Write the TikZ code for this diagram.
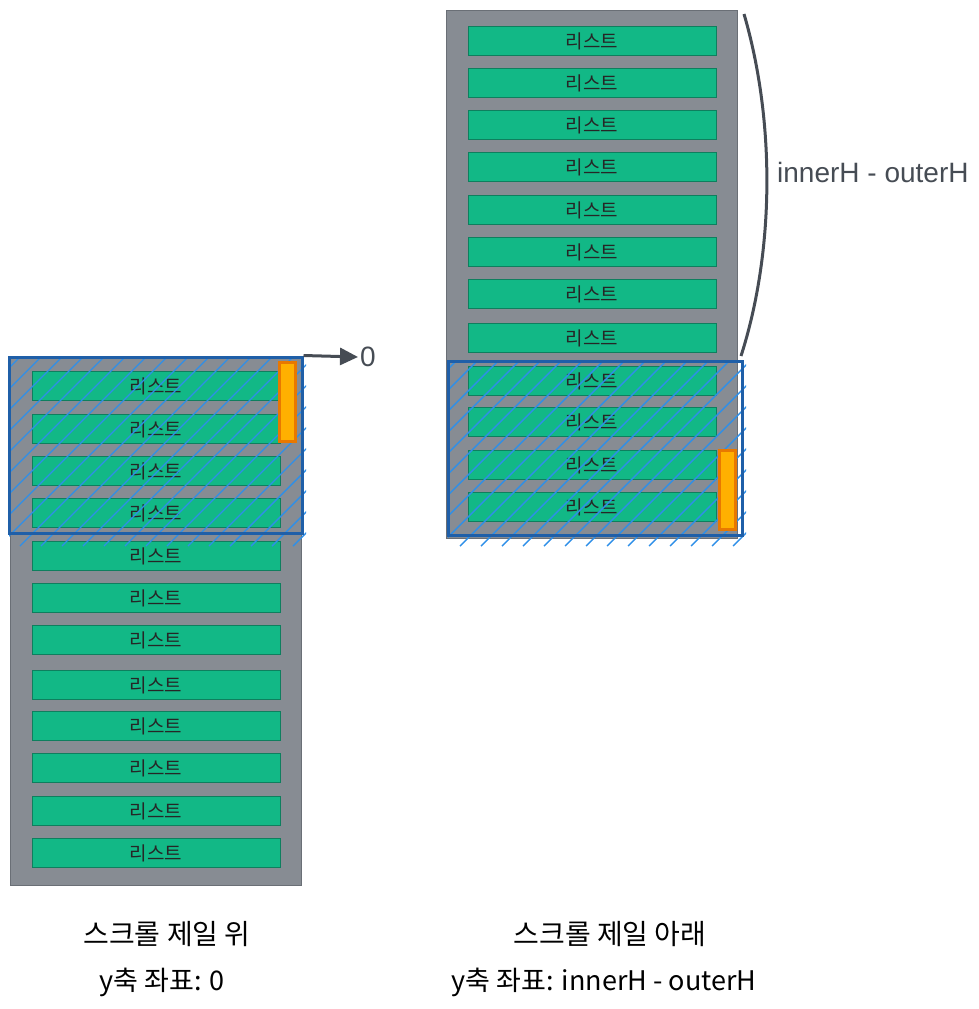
\documentclass[tikz,border=0pt]{standalone}
\usepackage{fontspec}
\setmainfont{Liberation Sans}
\newfontfamily\kr{Noto Sans CJK KR}
\usetikzlibrary{arrows.meta,positioning}
\definecolor{colgray}{HTML}{878C93}
\definecolor{colline}{HTML}{6A6F76}
\definecolor{itemgreen}{HTML}{12B886}
\definecolor{itemline}{HTML}{0E7F5E}
\definecolor{hatchblue}{HTML}{2E8FE8}
\definecolor{viewblue}{HTML}{1F5FA8}
\definecolor{barorange}{HTML}{FFB000}
\definecolor{barline}{HTML}{E87800}
\definecolor{markgray}{HTML}{464C54}

\begin{document}
\begin{tikzpicture}[x=1pt, y=-1pt, >={Triangle[length=18pt,width=17pt]},
  column/.style={draw=colline, fill=colgray, line width=0.8pt, minimum width=291pt, inner sep=0pt},
  item/.style={draw=itemline, fill=itemgreen, line width=0.8pt, minimum width=248pt, minimum height=29pt, inner sep=0pt, font=\kr\fontsize{19}{19}\selectfont, text=black!85},
  viewport/.style={draw=viewblue, line width=3pt, inner sep=0pt},
  hatch/.style={hatchblue, line width=1.4pt},
  bar/.style={draw=barline, fill=barorange, line width=3pt, minimum width=16pt, minimum height=79pt, inner sep=0pt},
  caption/.style={font=\kr\fontsize{28}{28}\selectfont}]
\useasboundingbox (0,0) rectangle (979,1009);
\node[column, minimum height=527pt] (Lcol) at (155.5,621.5) {};
\node[column, minimum height=528pt] (Rcol) at (591.5,274) {};
\foreach \y [count=\i] in {386,429,471,513,556,598,640,685,726,768,811,853}
  \node[item] (L\i) at (156,\y) {리스트};
\foreach \y [count=\i] in {41,83,125,167,210,252,294,338,381,422,465,507}
  \node[item] (R\i) at (592,\y) {리스트};
\begin{scope}
  \clip (9,357) rectangle (306,546);
  \foreach \h in {-190,-169,...,310}
    \draw[hatch] (\h,546) -- ++(200,-200);
\end{scope}
\begin{scope}
  \clip (448,361) rectangle (746,546);
  \foreach \h in {250,271,...,750}
    \draw[hatch] (\h,546) -- ++(200,-200);
\end{scope}
\node[bar] (Lbar) at (287.5,402) {};
\node[bar] (Rbar) at (727.5,490) {};
\node[viewport, minimum width=293pt, minimum height=176pt] (Lview) at (155.5,445) {};
\node[viewport, minimum width=294pt, minimum height=174pt] (Rview) at (595,448) {};
\node[right, inner sep=2pt, text=markgray, font=\fontsize{28}{28}\selectfont] (zero) at (358,357) {0};
\draw[->, line width=3pt, markgray] (Lview.north east) -- (zero.west);
\coordinate (btop) at (744,14);
\coordinate (bbot) at (741,356);
\draw[line width=3pt, markgray] (btop) .. controls (775,120) and (775,250) .. (bbot);
\node[right, inner sep=2pt, text=markgray, font=\fontsize{28}{28}\selectfont] (diff) at (775,172) {innerH - outerH};
\node[caption] (Ltitle) at (167,934) {스크롤 제일 위};
\node[caption, font=\kr\fontsize{27}{27}\selectfont] (Lcoord) at (162,982) {y축 좌표: 0};
\node[caption] (Rtitle) at (610,934) {스크롤 제일 아래};
\node[caption, font=\kr\fontsize{27}{27}\selectfont] (Rcoord) at (604,982) {y축 좌표: innerH - outerH};
\end{tikzpicture}
\end{document}
